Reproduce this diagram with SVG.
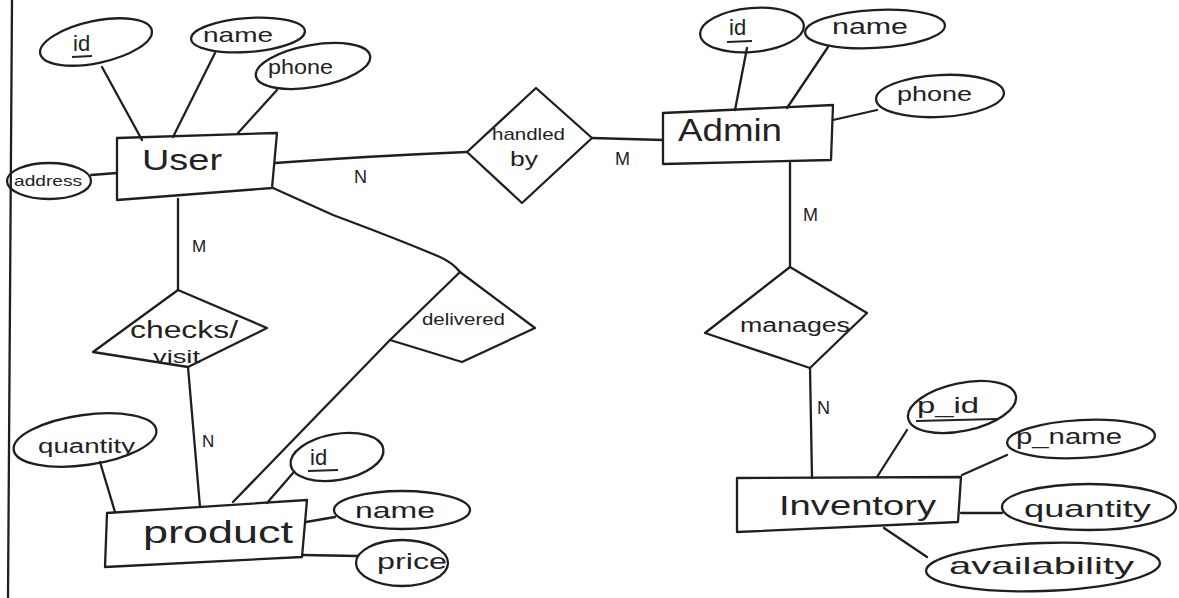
<svg xmlns="http://www.w3.org/2000/svg" width="1179" height="598" viewBox="0 0 1179 598">
  <style>
    .shape { fill: none; stroke: #1f1f1f; stroke-width: 2.3; stroke-linejoin: round; stroke-linecap: round; }
    .link { fill: none; stroke: #1f1f1f; stroke-width: 2.3; stroke-linecap: round; }
    .t { font-family: "Liberation Sans", Arial, sans-serif; fill: #222; }
    .ul { stroke: #222; stroke-width: 1.8; }
  </style>
  <rect width="1179" height="598" fill="#ffffff"/>

  <!-- page margin rule -->
  <line class="link" x1="12" y1="0" x2="8" y2="598"/>

  <g id="connectors">
    <!-- relationships -->
    <path class="link" d="M275 163 Q370 156 467 152"/>
    <path class="link" d="M592 138 L663 140"/>
    <path class="link" d="M790 163 L790 267"/>
    <path class="link" d="M810 368 L812 478"/>
    <path class="link" d="M178 199 L178 290"/>
    <path class="link" d="M188 367 L200 507"/>
    <path class="link" d="M273 188 L333 215 Q400 240 440 257 Q453 263 460 272"/>
    <path class="link" d="M390 340 L233 502"/>
    <!-- User attributes -->
    <path class="link" d="M102 67 L142 140"/>
    <path class="link" d="M215 53 L173 137"/>
    <path class="link" d="M277 90 L238 133"/>
    <path class="link" d="M91 175 L117 173"/>
    <!-- Admin attributes -->
    <path class="link" d="M747 48 L735 110"/>
    <path class="link" d="M828 47 L787 108"/>
    <path class="link" d="M877 110 L833 120"/>
    <!-- Inventory attributes -->
    <path class="link" d="M907 430 L877 477"/>
    <path class="link" d="M1007 455 L962 475"/>
    <path class="link" d="M961 513 L1002 513"/>
    <path class="link" d="M884 528 L927 557"/>
    <!-- product attributes -->
    <path class="link" d="M100 462 L115 512"/>
    <path class="link" d="M293 473 L267 503"/>
    <path class="link" d="M306 522 L335 517"/>
    <path class="link" d="M302 555 L358 556"/>
  </g>

  <g id="user">
    <polygon class="shape" points="117,138 277,133 272,188 117,200"/>
    <text class="t" x="142" y="170" font-size="30" textLength="80" lengthAdjust="spacingAndGlyphs">User</text>
  </g>
  <g id="user-id">
    <ellipse class="shape" cx="96" cy="42" rx="57" ry="21" transform="rotate(-12 96 42)"/>
    <text class="t" x="73" y="51" font-size="22">id</text>
    <line class="ul" x1="72" y1="57" x2="92" y2="56"/>
  </g>
  <g id="user-name">
    <ellipse class="shape" cx="248" cy="35" rx="57" ry="17" transform="rotate(-4 248 35)"/>
    <text class="t" x="203" y="42" font-size="21" textLength="70" lengthAdjust="spacingAndGlyphs">name</text>
  </g>
  <g id="user-phone">
    <ellipse class="shape" cx="313" cy="66" rx="58" ry="21" transform="rotate(-10 313 66)"/>
    <text class="t" x="268" y="74" font-size="20" textLength="65" lengthAdjust="spacingAndGlyphs">phone</text>
  </g>
  <g id="user-address">
    <ellipse class="shape" cx="49" cy="181" rx="42" ry="18"/>
    <text class="t" x="14" y="186" font-size="15" textLength="68" lengthAdjust="spacingAndGlyphs">address</text>
  </g>

  <g id="handled-by">
    <polygon class="shape" points="467,152 536,88 592,138 522,203"/>
    <text class="t" x="492" y="140" font-size="17" textLength="73" lengthAdjust="spacingAndGlyphs">handled</text>
    <text class="t" x="510" y="166" font-size="20" textLength="28" lengthAdjust="spacingAndGlyphs">by</text>
  </g>
  <g id="card-user-handled">
    <text class="t" x="354" y="183" font-size="18">N</text>
  </g>
  <g id="card-handled-admin">
    <text class="t" x="615" y="165" font-size="18">M</text>
  </g>

  <g id="admin">
    <polygon class="shape" points="663,113 833,105 831,160 663,164"/>
    <text class="t" x="678" y="141" font-size="31" textLength="104" lengthAdjust="spacingAndGlyphs">Admin</text>
  </g>
  <g id="admin-id">
    <ellipse class="shape" cx="752" cy="30" rx="52" ry="22" transform="rotate(-5 752 30)"/>
    <text class="t" x="729" y="35" font-size="22">id</text>
    <line class="ul" x1="727" y1="42" x2="752" y2="41"/>
  </g>
  <g id="admin-name">
    <ellipse class="shape" cx="875" cy="29" rx="70" ry="19" transform="rotate(-3 875 29)"/>
    <text class="t" x="832" y="34" font-size="22" textLength="76" lengthAdjust="spacingAndGlyphs">name</text>
  </g>
  <g id="admin-phone">
    <ellipse class="shape" cx="940" cy="96" rx="64" ry="21" transform="rotate(-3 940 96)"/>
    <text class="t" x="897" y="101" font-size="20" textLength="75" lengthAdjust="spacingAndGlyphs">phone</text>
  </g>
  <g id="card-admin-manages">
    <text class="t" x="803" y="221" font-size="18">M</text>
  </g>

  <g id="manages">
    <polygon class="shape" points="790,267 867,313 810,368 705,333"/>
    <text class="t" x="740" y="332" font-size="20" textLength="110" lengthAdjust="spacingAndGlyphs">manages</text>
  </g>
  <g id="card-manages-inventory">
    <text class="t" x="817" y="414" font-size="18">N</text>
  </g>

  <g id="inventory">
    <polygon class="shape" points="737,478 961,477 958,522 737,532"/>
    <text class="t" x="779" y="515" font-size="27" textLength="157" lengthAdjust="spacingAndGlyphs">Inventory</text>
  </g>
  <g id="inventory-p-id">
    <ellipse class="shape" cx="962" cy="407" rx="55" ry="24" transform="rotate(-12 962 407)"/>
    <text class="t" x="917" y="413" font-size="22" textLength="62" lengthAdjust="spacingAndGlyphs">p_id</text>
    <line class="ul" x1="916" y1="421" x2="997" y2="419"/>
  </g>
  <g id="inventory-p-name">
    <ellipse class="shape" cx="1081" cy="439" rx="74" ry="19" transform="rotate(-3 1081 439)"/>
    <text class="t" x="1016" y="444" font-size="22" textLength="106" lengthAdjust="spacingAndGlyphs">p_name</text>
  </g>
  <g id="inventory-quantity">
    <ellipse class="shape" cx="1089" cy="507" rx="87" ry="23"/>
    <text class="t" x="1024" y="517" font-size="24" textLength="127" lengthAdjust="spacingAndGlyphs">quantity</text>
  </g>
  <g id="inventory-availability">
    <ellipse class="shape" cx="1043" cy="567" rx="117" ry="24" transform="rotate(-2 1043 567)"/>
    <text class="t" x="949" y="574" font-size="24" textLength="185" lengthAdjust="spacingAndGlyphs">availability</text>
  </g>

  <g id="card-user-checks">
    <text class="t" x="192" y="252" font-size="17">M</text>
  </g>
  <g id="checks-visit">
    <polygon class="shape" points="178,290 267,328 188,367 93,352"/>
    <text class="t" x="130" y="338" font-size="23" textLength="108" lengthAdjust="spacingAndGlyphs">checks/</text>
    <text class="t" x="153" y="363" font-size="18" textLength="47" lengthAdjust="spacingAndGlyphs">visit</text>
  </g>
  <g id="card-checks-product">
    <text class="t" x="202" y="447" font-size="17">N</text>
  </g>

  <g id="delivered">
    <polygon class="shape" points="460,272 535,328 462,362 390,340"/>
    <text class="t" x="422" y="325" font-size="17" textLength="83" lengthAdjust="spacingAndGlyphs">delivered</text>
  </g>

  <g id="product">
    <polygon class="shape" points="107,513 307,500 302,557 105,567"/>
    <text class="t" x="143" y="543" font-size="32" textLength="150" lengthAdjust="spacingAndGlyphs">product</text>
  </g>
  <g id="product-quantity">
    <ellipse class="shape" cx="85" cy="440" rx="72" ry="25" transform="rotate(-8 85 440)"/>
    <text class="t" x="38" y="453" font-size="20" textLength="97" lengthAdjust="spacingAndGlyphs">quantity</text>
  </g>
  <g id="product-id">
    <ellipse class="shape" cx="337" cy="457" rx="47" ry="23" transform="rotate(-10 337 457)"/>
    <text class="t" x="310" y="465" font-size="22">id</text>
    <line class="ul" x1="308" y1="471" x2="338" y2="470"/>
  </g>
  <g id="product-name">
    <ellipse class="shape" cx="402" cy="510" rx="68" ry="19"/>
    <text class="t" x="355" y="518" font-size="22" textLength="80" lengthAdjust="spacingAndGlyphs">name</text>
  </g>
  <g id="product-price">
    <ellipse class="shape" cx="402" cy="563" rx="46" ry="23"/>
    <text class="t" x="377" y="569" font-size="22" textLength="70" lengthAdjust="spacingAndGlyphs">price</text>
  </g>
</svg>
